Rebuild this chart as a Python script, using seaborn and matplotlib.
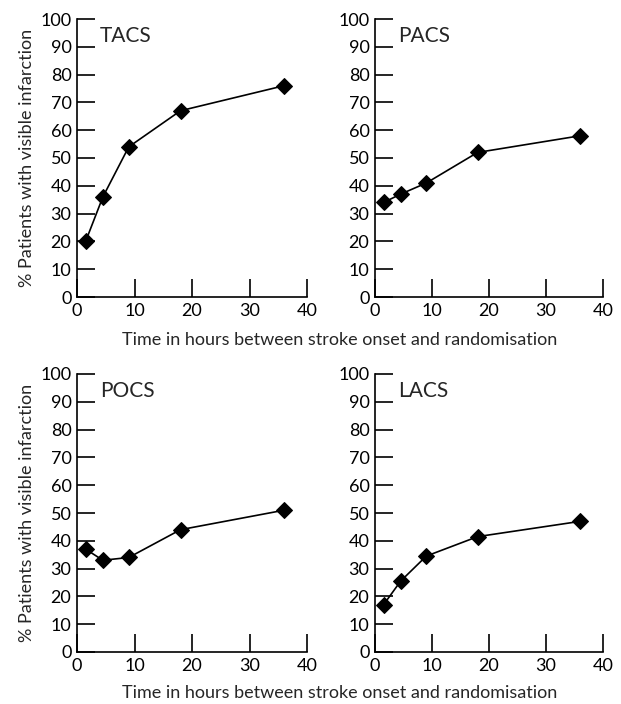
import pandas as pd
import matplotlib.pyplot as plt
import seaborn as sns

# hours between stroke onset and randomisation
hours = [1.5, 4.5, 9, 18, 36]

# % patients with visible infarction, per stroke subtype
tacs = [20, 36, 54, 67, 76]
pacs = [34, 37, 41, 52, 58]
pocs = [37, 33, 34, 44, 51]
lacs = [17, 25.5, 34.5, 41.5, 47]

subtypes = ['TACS', 'PACS', 'POCS', 'LACS']
values = [tacs, pacs, pocs, lacs]

sns.set_style('ticks')
plt.rcParams['font.family'] = ['Lato', 'DejaVu Sans']

fig = plt.figure(figsize=(6.21, 7.04), dpi=100)
W, H = 621, 704
# axes boxes in pixels: left, top, right, bottom
boxes = [(77, 19, 307, 297), (375, 19, 603, 297),
         (77, 374, 307, 652), (375, 374, 603, 652)]

for i, (name, vals) in enumerate(zip(subtypes, values)):
    l, t, r, b = boxes[i]
    ax = fig.add_axes([l / W, 1 - b / H, (r - l) / W, (b - t) / H])
    df = pd.DataFrame({'hours': hours, 'pct': vals})
    sns.lineplot(data=df, x='hours', y='pct', ax=ax, color='black',
                 marker='D', markersize=8, markeredgecolor='black',
                 linewidth=1.2, clip_on=False)
    ax.set_xlim(0, 40)
    ax.set_ylim(0, 100)
    ax.set_xticks(range(0, 41, 10))
    ax.set_yticks(range(0, 101, 10))
    ax.tick_params(direction='in', length=13, width=1.2, labelsize=13,
                   pad=4, colors='black')
    for s in ['left', 'bottom']:
        ax.spines[s].set_linewidth(1.2)
        ax.spines[s].set_color('black')
    sns.despine(ax=ax)
    ax.set_xlabel('')
    ax.set_ylabel('')
    ax.text(4, 94, name, fontsize=15, va='center', ha='left')
    if i % 2 == 0:
        ax.set_ylabel('% Patients with visible infarction', fontsize=13,
                      labelpad=4)

fig.text(340 / W, 1 - 340 / H,
         'Time in hours between stroke onset and randomisation',
         ha='center', va='center', fontsize=13)
fig.text(340 / W, 1 - 693 / H,
         'Time in hours between stroke onset and randomisation',
         ha='center', va='center', fontsize=13)

fig.savefig('out.png', dpi=100)
